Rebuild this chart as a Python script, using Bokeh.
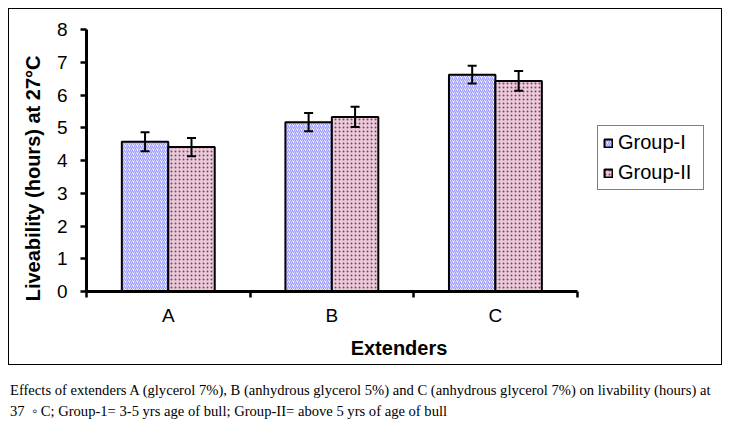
import numpy as np
from bokeh.plotting import figure
from bokeh.models import (ColumnDataSource, Range1d, FixedTicker, Whisker, TeeHead,
                          Legend, LegendItem, Title, Div)
from bokeh.layouts import column
from bokeh.embed import file_html
from bokeh.resources import INLINE

# ---- data ----
extenders = ["A", "B", "C"]
group1 = [4.57, 5.17, 6.62]
group1_err = [0.29, 0.28, 0.27]
group2 = [4.41, 5.33, 6.43]
group2_err = [0.28, 0.31, 0.30]
series_names = ["Group-I", "Group-II"]
y_ticks = [0, 1, 2, 3, 4, 5, 6, 7, 8]
x_title = "Extenders"
y_title = "Liveability (hours) at 27°C"
caption_1 = ("Effects of extenders A (glycerol 7%), B (anhydrous glycerol 5%) and C "
             "(anhydrous glycerol 7%) on livability (hours) at")
caption_2 = "37 &nbsp;\u25e6 C; Group-1= 3-5 yrs age of bull; Group-II= above 5 yrs of age of bull"

SANS = "Liberation Sans"
SERIF = "Liberation Serif"

n = len(extenders)
centers = np.arange(n) + 0.5
bw = 0.284

# layout (pixels)
FIG_W, FIG_H = 714, 357
LEFT, TOP, FRAME_H = 77, 20, 262
FRAME_W = 625          # frame extends right so the legend is not clipped
AXIS_W = 490.7         # pixel length of the drawn x axis (categories span)
x_end = n * FRAME_W / AXIS_W

src1 = ColumnDataSource(dict(
    x=centers - bw / 2, top=group1,
    upper=np.array(group1) + np.array(group1_err),
    lower=np.array(group1) - np.array(group1_err)))
src2 = ColumnDataSource(dict(
    x=centers + bw / 2, top=group2,
    upper=np.array(group2) + np.array(group2_err),
    lower=np.array(group2) - np.array(group2_err)))

p = figure(width=FIG_W, height=FIG_H, x_range=Range1d(0, x_end), y_range=Range1d(0, 8),
           output_backend="svg", toolbar_location=None,
           min_border_left=LEFT, min_border_right=FIG_W - LEFT - FRAME_W,
           min_border_top=TOP, min_border_bottom=FIG_H - TOP - FRAME_H)
p.margin = (8, 0, 0, 8)
p.styles = {"border": "1.5px solid black"}
p.outline_line_color = None
p.xgrid.grid_line_color = None
p.ygrid.grid_line_color = None
p.background_fill_color = "white"
p.border_fill_color = "white"

r1 = p.vbar(x="x", top="top", bottom=0, width=bw, source=src1,
            fill_color="white", hatch_pattern="/", hatch_color="#9999ff",
            hatch_scale=4, hatch_weight=1.3, line_color="black", line_width=2)
r2 = p.vbar(x="x", top="top", bottom=0, width=bw, source=src2,
            fill_color="#e8ccda", hatch_pattern="dot", hatch_color="#993366",
            hatch_scale=4, hatch_weight=4, line_color="black", line_width=2)

for src in (src1, src2):
    w = Whisker(source=src, base="x", upper="upper", lower="lower", dimension="height",
                line_width=2, line_color="black",
                upper_head=TeeHead(size=9, line_width=2, line_color="black"),
                lower_head=TeeHead(size=9, line_width=2, line_color="black"))
    w.level = "annotation"
    p.add_layout(w)

# x axis
xa = p.xaxis[0]
xa.bounds = (0, n)
xa.ticker = FixedTicker(ticks=list(centers), minor_ticks=list(range(n + 1)))
xa.major_label_overrides = {float(c): e for c, e in zip(centers, extenders)}
xa.axis_line_width = 3
xa.major_tick_in = 0
xa.major_tick_out = 0
xa.minor_tick_in = 0
xa.minor_tick_out = 6
xa.minor_tick_line_width = 2.5
xa.minor_tick_line_color = "black"
xa.major_label_text_font = SANS
xa.major_label_text_font_size = "19px"
xa.major_label_text_color = "black"
xa.major_label_standoff = 7
xa.axis_label = x_title
xa.axis_label_text_font = SANS
xa.axis_label_text_font_style = "bold"
xa.axis_label_text_font_size = "20px"
xa.axis_label_text_color = "black"
xa.axis_label_standoff = 8

# y axis
ya = p.yaxis[0]
ya.ticker = FixedTicker(ticks=y_ticks, minor_ticks=[])
ya.axis_line_width = 3
ya.major_tick_in = 0
ya.major_tick_out = 6
ya.major_tick_line_width = 2.5
ya.major_tick_line_color = "black"
ya.minor_tick_line_color = None
ya.major_label_text_font = SANS
ya.major_label_text_font_size = "19px"
ya.major_label_text_color = "black"
ya.major_label_standoff = 13

ytitle = Title(text=y_title, align="right", offset=26, standoff=19,
               text_font=SANS, text_font_style="bold", text_font_size="20px",
               text_color="black")
p.add_layout(ytitle, "left")

legend = Legend(items=[LegendItem(label=series_names[0], renderers=[r1]),
                       LegendItem(label=series_names[1], renderers=[r2])],
                location=(511, 101), margin=0, padding=5, spacing=7,
                glyph_width=10, glyph_height=10, label_standoff=5, label_width=80,
                label_text_font=SANS, label_text_font_size="20px", label_text_color="black",
                border_line_color="black", border_line_width=1, background_fill_color="white")
p.add_layout(legend)

caption = Div(text=caption_1 + "<br>" + caption_2, width=714, margin=(15, 0, 0, 10),
              styles={"font-family": SERIF, "font-size": "14.6px", "line-height": "21px",
                      "white-space": "nowrap", "color": "black"})

layout = column(p, caption)
open("out.html", "w").write(file_html(layout, INLINE))
